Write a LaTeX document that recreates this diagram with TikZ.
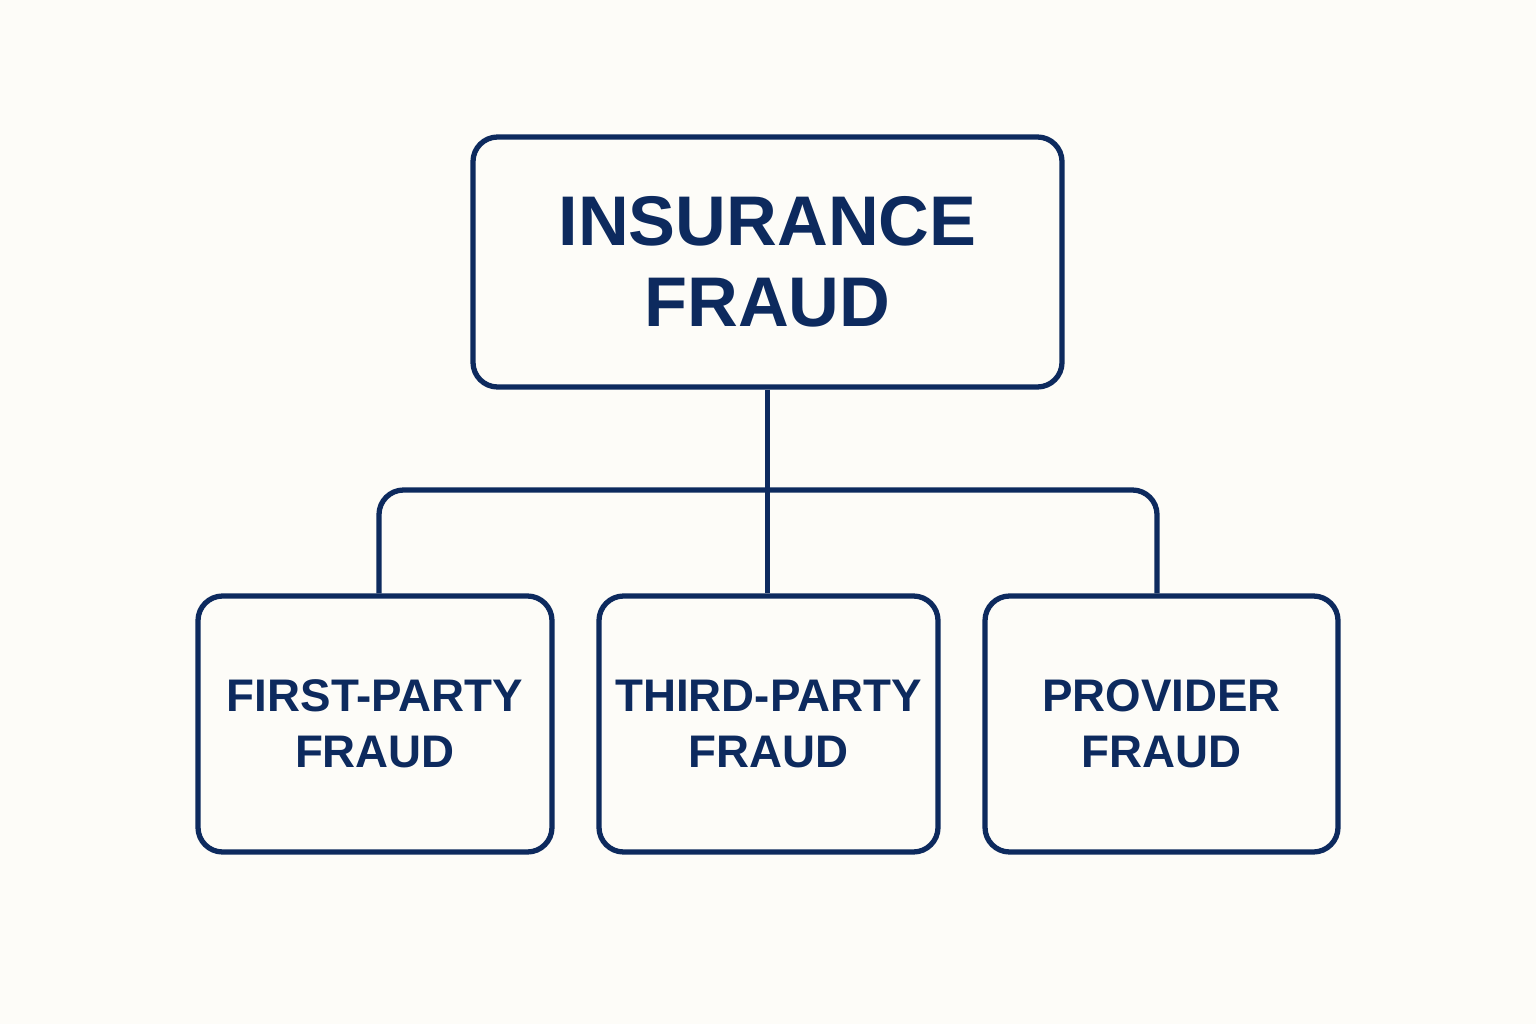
\documentclass[tikz,border=0pt]{standalone}
\usepackage{fontspec}
\setmainfont{Liberation Sans}
\usepackage{tikz}
\usetikzlibrary{positioning}
\definecolor{navy}{HTML}{0D2A5E}
\definecolor{paper}{HTML}{FDFCF8}
\tikzset{
	fraudbox/.style={draw=navy,line width=1.5pt,rounded corners=7pt,align=center,text=navy,inner sep=0pt,font=\bfseries},
	leafbox/.style={fraudbox,minimum height=2.56cm,font=\fontsize{13}{16}\selectfont\bfseries},
	link/.style={draw=navy,line width=1.5pt}
}
\begin{document}
\begin{tikzpicture}
	%BACKGROUND
	\fill[paper] (0,0) rectangle (15.36,10.24);
	\useasboundingbox (0,0) rectangle (15.36,10.24);
	
	%BOXES
	\node[fraudbox,minimum width=5.89cm,minimum height=2.5cm,font=\fontsize{20}{23}\selectfont\bfseries] (root) at (7.675,7.62) {INSURANCE\\FRAUD};
	\node[leafbox,minimum width=3.54cm] (first) at (3.75,3.0) {FIRST-PARTY\\FRAUD};
	\node[leafbox,minimum width=3.39cm] (third) at (7.685,3.0) {THIRD-PARTY\\FRAUD};
	\node[leafbox,minimum width=3.53cm] (provider) at (11.615,3.0) {PROVIDER\\FRAUD};
	
	%LINKS
	\draw[link] (root.south) -- (root.south |- third.north);
	\draw[link,rounded corners=7pt] (first.north -| 3.79,0) -- (3.79,5.34) -- (11.57,5.34) -- (provider.north -| 11.57,0);
\end{tikzpicture}
\end{document}
